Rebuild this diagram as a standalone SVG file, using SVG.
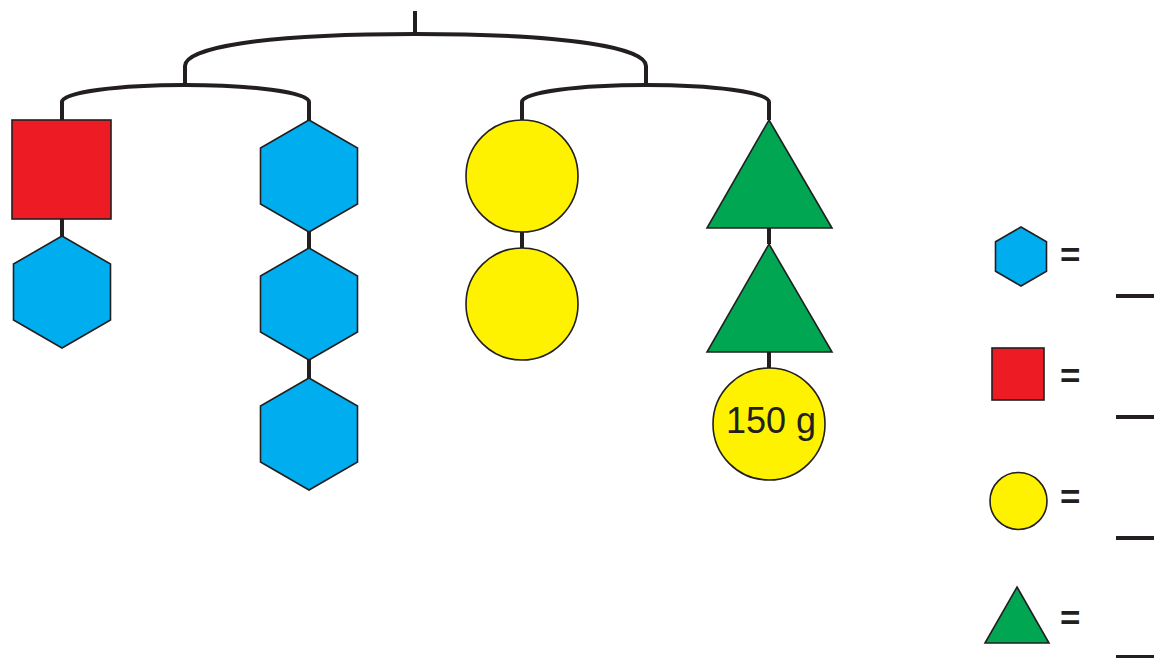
<svg xmlns="http://www.w3.org/2000/svg" width="1159" height="658" viewBox="0 0 1159 658">
<style>
.wire{fill:none;stroke:#231F20;stroke-width:4}
.hex{fill:#00AEEF;stroke:#231F20;stroke-width:1.6}
.sq{fill:#ED1C24;stroke:#231F20;stroke-width:1.6}
.cir{fill:#FFF200;stroke:#231F20;stroke-width:1.6}
.tri{fill:#00A651;stroke:#231F20;stroke-width:1.6}
.lbl{font-family:"Liberation Sans",Arial,sans-serif;fill:#231F20}
.eq{font-family:"Liberation Sans",Arial,sans-serif;font-size:35px;font-weight:bold;fill:#231F20}
.blank{stroke:#231F20;stroke-width:4}
</style>
<g id="connectors">
<path class="wire" d="M415,11 V34"/>
<path class="wire" d="M185,83 V66 C185,48 260,34 415,34 C570,34 646,48 646,66 V83"/>
<path class="wire" d="M62,120 V102 C62,92 120,85 185,85 C250,85 309,92 309,102 V120"/>
<path class="wire" d="M522,120 V102 C522,92 580,85 646,85 C712,85 769,92 769,102 V120"/>
<path class="wire" d="M62,219 V236"/>
<path class="wire" d="M309,232 V248 M309,360 V378"/>
<path class="wire" d="M522,232 V248"/>
<path class="wire" d="M769,228 V244 M769,352 V368"/>
</g>
<g id="red-square"><rect class="sq" x="12" y="120" width="99" height="99"/></g>
<g id="hex-a"><polygon class="hex" transform="translate(62,292)" points="0,-56 48.5,-28 48.5,28 0,56 -48.5,28 -48.5,-28"/></g>
<g id="hex-b1"><polygon class="hex" transform="translate(309,176)" points="0,-56 48.5,-28 48.5,28 0,56 -48.5,28 -48.5,-28"/></g>
<g id="hex-b2"><polygon class="hex" transform="translate(309,304)" points="0,-56 48.5,-28 48.5,28 0,56 -48.5,28 -48.5,-28"/></g>
<g id="hex-b3"><polygon class="hex" transform="translate(309,434)" points="0,-56 48.5,-28 48.5,28 0,56 -48.5,28 -48.5,-28"/></g>
<g id="circle-c1"><circle class="cir" cx="522" cy="176" r="56"/></g>
<g id="circle-c2"><circle class="cir" cx="522" cy="304" r="56"/></g>
<g id="tri-d1"><polygon class="tri" points="769,120 832,228 707,228"/></g>
<g id="tri-d2"><polygon class="tri" points="769,244 832,352 707,352"/></g>
<g id="circle-d3"><circle class="cir" cx="769" cy="424" r="56"/>
<text class="lbl" x="771" y="433" font-size="36" text-anchor="middle">150 g</text></g>
<g id="legend-hex"><polygon class="hex" transform="translate(1021,256.5)" points="0,-29.5 25.5,-14.75 25.5,14.75 0,29.5 -25.5,14.75 -25.5,-14.75"/>
<text class="eq" x="1060" y="267">=</text>
<line class="blank" x1="1116" y1="296" x2="1154" y2="296"/></g>
<g id="legend-square"><rect class="sq" x="992" y="348" width="52" height="52"/>
<text class="eq" x="1060" y="388">=</text>
<line class="blank" x1="1116" y1="417" x2="1154" y2="417"/></g>
<g id="legend-circle"><circle class="cir" cx="1018.5" cy="501" r="28.5"/>
<text class="eq" x="1060" y="509">=</text>
<line class="blank" x1="1116" y1="538" x2="1154" y2="538"/></g>
<g id="legend-triangle"><polygon class="tri" points="1017,587 1049,643 985,643"/>
<text class="eq" x="1060" y="630">=</text>
<line class="blank" x1="1116" y1="657" x2="1154" y2="657"/></g>
</svg>
